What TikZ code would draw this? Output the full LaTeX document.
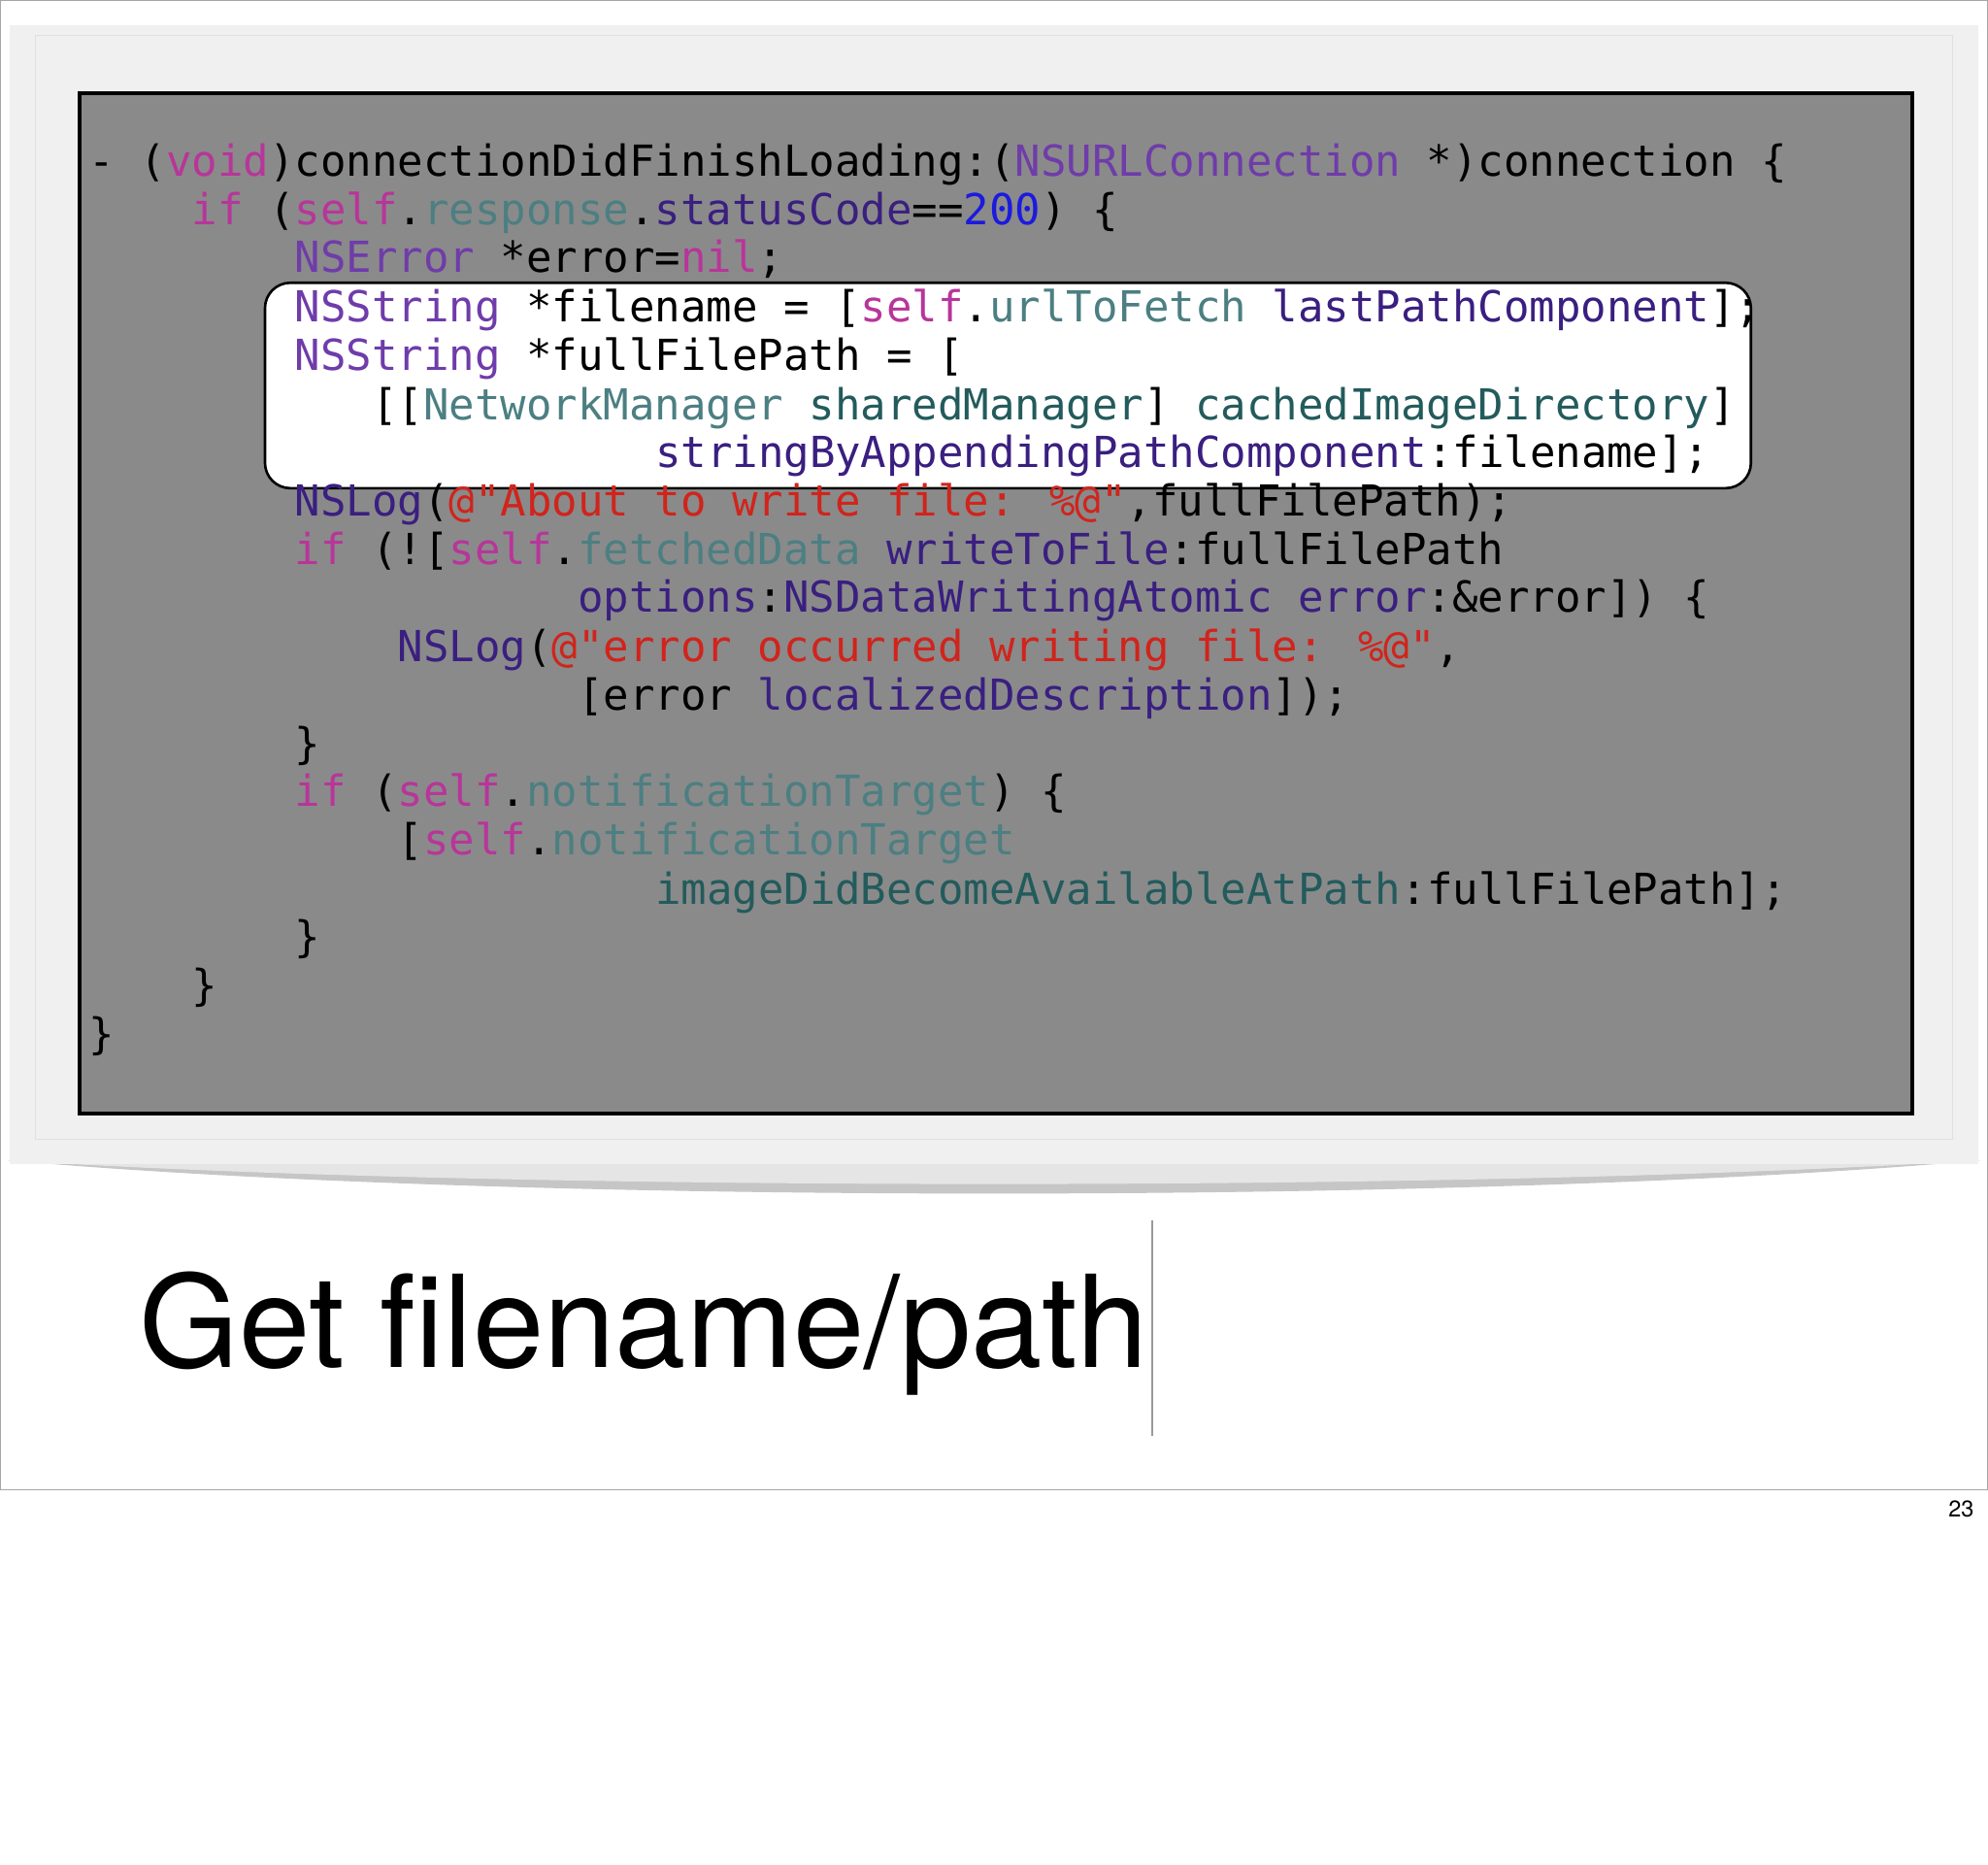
\documentclass[tikz,border=0pt]{standalone}
\usepackage{fontspec}
\setmainfont{TeX Gyre Heros}
\newfontfamily\codefont{DejaVu Sans Mono}
\definecolor{ckw}{HTML}{B8359A}
\definecolor{ccls}{HTML}{6F3CAA}
\definecolor{cprop}{HTML}{4C7F82}
\definecolor{cmeth}{HTML}{3A1F80}
\definecolor{cnum}{HTML}{1C1ADF}
\definecolor{cstr}{HTML}{D0241C}
\definecolor{cproj}{HTML}{235B5C}
\newcommand\kw[1]{\textcolor{ckw}{#1}}
\newcommand\cls[1]{\textcolor{ccls}{#1}}
\newcommand\prp[1]{\textcolor{cprop}{#1}}
\newcommand\mth[1]{\textcolor{cmeth}{#1}}
\newcommand\nm[1]{\textcolor{cnum}{#1}}
\newcommand\st[1]{\textcolor{cstr}{#1}}
\newcommand\pj[1]{\textcolor{cproj}{#1}}
\begin{document}
\begin{tikzpicture}[x=1pt,y=-1pt,
  cl/.style={anchor=base west,inner sep=0pt,font=\codefont\fontsize{33.7}{38}\selectfont}]
\useasboundingbox (0,0) rectangle (1568,1470);
\fill[white] (0,0) rectangle (1568,1470);
\draw[gray!70,line width=1pt] (0.5,0.5) rectangle (1567.5,1175);
% shadow
\fill[gray!45] (6,915) .. controls (400,950) and (1168,950) .. (1562,915) -- cycle;
\fill[gray!20] (6,915) .. controls (400,940) and (1168,940) .. (1562,915) -- cycle;
\fill[black!6] (8,20) rectangle (1560,918);
\draw[black!12] (28,28) rectangle (1540,898);
\node[draw=black,line width=3pt,fill=black!46,minimum width=1446,minimum height=805,anchor=north west,inner sep=0pt] (codebox) at (61,72) {};
\node[draw=black,line width=2pt,fill=white,rounded corners=20pt,minimum width=1172,minimum height=162,anchor=north west,inner sep=0pt] (hl) at (208,222) {};
\def\cw{20.3}
\node[cl] (l1) at (70,139) {- (\kw{void})connectionDidFinishLoading:(\cls{NSURLConnection} *)connection \{};
\node[cl] (l2) at (70+4*\cw,177) {\kw{if} (\kw{self}.\prp{response}.\mth{statusCode}==\nm{200}) \{};
\node[cl] (l3) at (70+8*\cw,215) {\cls{NSError} *error=\kw{nil};};
\node[cl] (l4) at (70+8*\cw,254) {\cls{NSString} *filename = [\kw{self}.\prp{urlToFetch} \mth{lastPathComponent}];};
\node[cl] (l5) at (70+8*\cw,292) {\cls{NSString} *fullFilePath = [};
\node[cl] (l6) at (70+11*\cw,331) {[[\prp{NetworkManager} \pj{sharedManager}] \pj{cachedImageDirectory}]};
\node[cl] (l7) at (70+22*\cw,369) {\mth{stringByAppendingPathComponent}:filename];};
\node[cl] (l8) at (70+8*\cw,407) {\mth{NSLog}(\st{@"About to write file: \%@"},fullFilePath);};
\node[cl] (l9) at (70+8*\cw,445) {\kw{if} (![\kw{self}.\prp{fetchedData} \mth{writeToFile}:fullFilePath};
\node[cl] (l10) at (70+19*\cw,483) {\mth{options}:\mth{NSDataWritingAtomic} \mth{error}:\&error]) \{};
\node[cl] (l11) at (70+12*\cw,522) {\mth{NSLog}(\st{@"error occurred writing file: \%@"},};
\node[cl] (l12) at (70+19*\cw,560) {[error \mth{localizedDescription}]);};
\node[cl] (l13) at (70+8*\cw,598) {\}};
\node[cl] (l14) at (70+8*\cw,636) {\kw{if} (\kw{self}.\prp{notificationTarget}) \{};
\node[cl] (l15) at (70+12*\cw,674) {[\kw{self}.\prp{notificationTarget}};
\node[cl] (l16) at (70+22*\cw,713) {\pj{imageDidBecomeAvailableAtPath}:fullFilePath];};
\node[cl] (l17) at (70+8*\cw,751) {\}};
\node[cl] (l18) at (70+4*\cw,789) {\}};
\node[cl] (l19) at (70,827) {\}};
\node[anchor=base west,inner sep=0pt,font=\fontsize{101}{110}\selectfont] (title) at (110,1078) {Get filename/path};
\coordinate (vt) at (909,962);
\coordinate (vb) at (909,1132);
\draw[gray!80,line width=1.2pt] (vt) -- (vb);
\node[anchor=base east,inner sep=0pt,font=\fontsize{18}{20}\selectfont] (pg) at (1557,1196) {23};
\end{tikzpicture}
\end{document}
